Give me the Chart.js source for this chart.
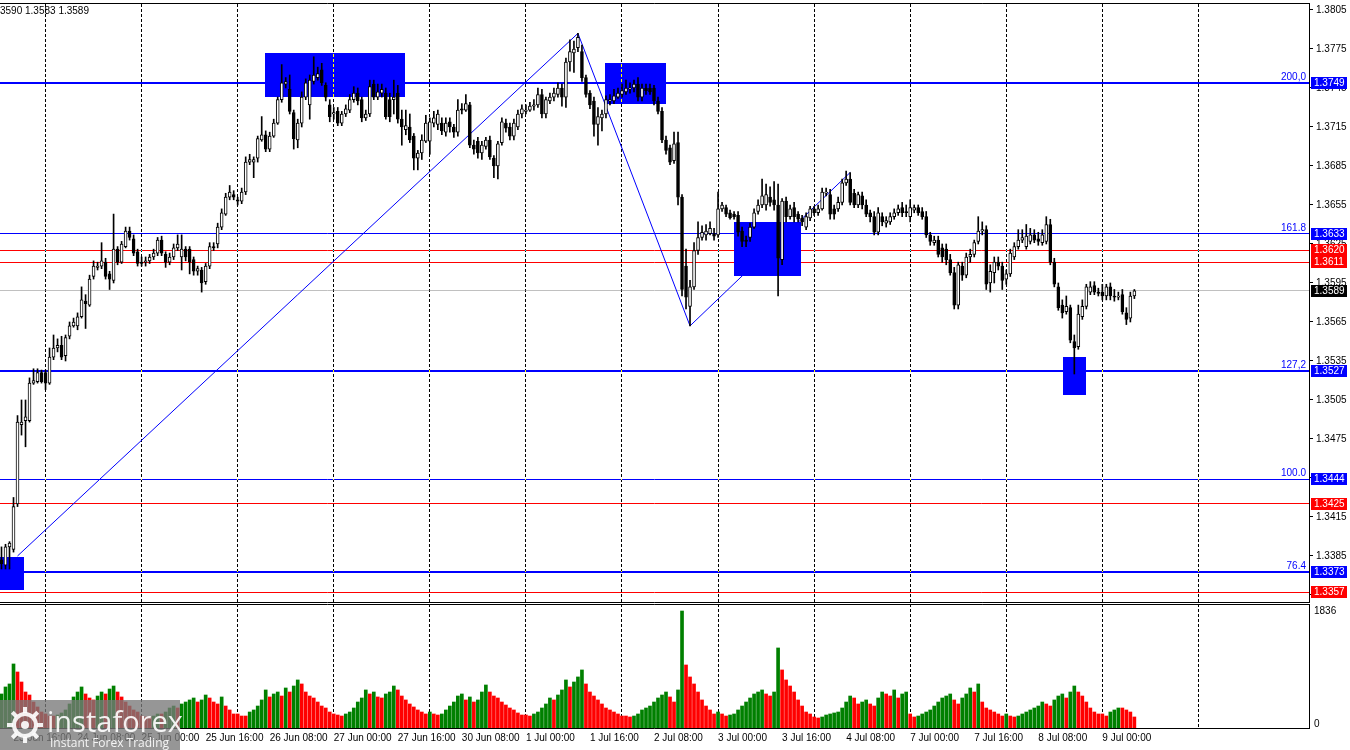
<!DOCTYPE html>
<html><head><meta charset="utf-8">
<script src="https://cdn.jsdelivr.net/npm/chart.js@4.4.1/dist/chart.umd.min.js"></script>
<style>
html,body{margin:0;padding:0;background:#fff;overflow:hidden}
#wrap{position:relative;width:1350px;height:750px}
#pc{position:absolute;left:0;top:0}
#vc{position:absolute;left:0;top:604px}
</style></head><body><div id="wrap">
<canvas id="pc" width="1350" height="604"></canvas>
<canvas id="vc" width="1350" height="146"></canvas>
</div>
<script>
// ---------- DATA (GBPUSD H1) ----------
const tickIdx = [3,19,35,51,67,83,99,115,131,147,163,179,195,211,227,243,259,275];
const tickLabels = ['23 Jun 16:00','24 Jun 08:00','25 Jun 00:00','25 Jun 16:00','26 Jun 08:00','27 Jun 00:00','27 Jun 16:00','30 Jun 08:00','1 Jul 00:00','1 Jul 16:00','2 Jul 08:00','3 Jul 00:00','3 Jul 16:00','4 Jul 08:00','7 Jul 00:00','7 Jul 16:00','8 Jul 08:00','9 Jul 00:00'];
const dayStarts = [11,35,59,83,107,131,155,179,203,227,251,275,299];
const priceTicks = [1.3355,1.3385,1.3415,1.3445,1.3475,1.3505,1.3535,1.3565,1.3595,1.3625,1.3655,1.3685,1.3715,1.3745,1.3775,1.3805];
const volTicks = [0, 1836];
const slotCount = 327;

const openP = [
1.3382,1.3378,1.3392,1.3390,1.3425,1.3486,1.3489,1.3489,1.3518,1.3519,
1.3526,1.3526,1.3518,1.3538,1.3545,1.3547,1.3539,1.3554,1.3562,1.3562,
1.3569,1.3581,1.3578,1.3600,1.3607,1.3608,1.3611,1.3602,1.3597,1.3621,
1.3611,1.3623,1.3635,1.3629,1.3619,1.3611,1.3611,1.3612,1.3615,1.3618,
1.3628,1.3617,1.3611,1.3615,1.3622,1.3615,1.3621,1.3621,1.3613,1.3604,
1.3605,1.3596,1.3608,1.3623,1.3625,1.3638,1.3648,1.3661,1.3663,1.3659,
1.3658,1.3665,1.3688,1.3688,1.3691,1.3705,1.3709,1.3698,1.3708,1.3718,
1.3736,1.3748,1.3744,1.3726,1.3705,1.3718,1.3738,1.3732,1.3750,1.3753,
1.3759,1.3747,1.3732,1.3725,1.3727,1.3718,1.3725,1.3728,1.3736,1.3741,
1.3736,1.3722,1.3725,1.3748,1.3738,1.3741,1.3741,1.3736,1.3736,1.3741,
1.3721,1.3713,1.3715,1.3708,1.3691,1.3695,1.3704,1.3704,1.3718,1.3717,
1.3718,1.3711,1.3719,1.3715,1.3711,1.3729,1.3728,1.3732,1.3701,1.3704,
1.3695,1.3700,1.3705,1.3691,1.3685,1.3703,1.3718,1.3715,1.3708,1.3715,
1.3725,1.3727,1.3728,1.3731,1.3732,1.3740,1.3725,1.3735,1.3738,1.3740,
1.3745,1.3738,1.3765,1.3772,1.3776,1.3773,1.3753,1.3741,1.3735,1.3717,
1.3722,1.3725,1.3735,1.3735,1.3738,1.3740,1.3742,1.3744,1.3745,1.3748,
1.3738,1.3745,1.3745,1.3745,1.3735,1.3727,1.3705,1.3699,1.3689,1.3703,
1.3661,1.3608,1.3577,1.3592,1.3620,1.3630,1.3632,1.3633,1.3633,1.3632,
1.3652,1.3653,1.3649,1.3648,1.3647,1.3635,1.3628,1.3630,1.3638,1.3650,
1.3655,1.3655,1.3661,1.3659,1.3655,1.3613,1.3658,1.3646,1.3653,1.3648,
1.3645,1.3638,1.3645,1.3652,1.3649,1.3652,1.3664,1.3663,1.3652,1.3652,
1.3657,1.3672,1.3675,1.3664,1.3655,1.3662,1.3655,1.3649,1.3646,1.3634,
1.3646,1.3641,1.3642,1.3646,1.3649,1.3653,1.3650,1.3646,1.3651,1.3653,
1.3650,1.3646,1.3632,1.3626,1.3628,1.3622,1.3621,1.3613,1.3603,1.3578,
1.3608,1.3601,1.3615,1.3617,1.3627,1.3635,1.3636,1.3595,1.3603,1.3611,
1.3608,1.3598,1.3602,1.3615,1.3623,1.3628,1.3623,1.3627,1.3632,1.3629,
1.3626,1.3627,1.3640,1.3611,1.3592,1.3578,1.3573,1.3576,1.3550,1.3546,
1.3569,1.3577,1.3588,1.3593,1.3588,1.3588,1.3585,1.3592,1.3585,1.3584,
1.3586,1.3572,1.3568,1.3585];
const highP = [
1.3392,1.3394,1.3396,1.3430,1.3493,1.3505,1.3505,1.3522,1.3529,1.3529,
1.3528,1.3528,1.3545,1.3555,1.3552,1.3554,1.3555,1.3565,1.3568,1.3572,
1.3592,1.3586,1.3601,1.3612,1.3611,1.3626,1.3614,1.3604,1.3648,1.3623,
1.3627,1.3638,1.3638,1.3632,1.3621,1.3615,1.3615,1.3617,1.3621,1.3630,
1.3631,1.3619,1.3618,1.3625,1.3632,1.3632,1.3623,1.3623,1.3615,1.3608,
1.3607,1.3610,1.3626,1.3626,1.3641,1.3652,1.3664,1.3670,1.3666,1.3661,
1.3668,1.3692,1.3694,1.3692,1.3708,1.3723,1.3712,1.3711,1.3721,1.3738,
1.3763,1.3753,1.3755,1.3728,1.3721,1.3742,1.3752,1.3755,1.3769,1.3761,
1.3764,1.3749,1.3736,1.3730,1.3730,1.3727,1.3732,1.3740,1.3746,1.3745,
1.3738,1.3728,1.3751,1.3751,1.3748,1.3748,1.3745,1.3741,1.3751,1.3747,
1.3728,1.3728,1.3725,1.3710,1.3697,1.3709,1.3724,1.3722,1.3727,1.3728,
1.3722,1.3722,1.3722,1.3717,1.3736,1.3733,1.3740,1.3734,1.3705,1.3707,
1.3704,1.3707,1.3708,1.3693,1.3704,1.3722,1.3721,1.3718,1.3721,1.3728,
1.3732,1.3732,1.3734,1.3736,1.3745,1.3744,1.3738,1.3741,1.3745,1.3749,
1.3748,1.3768,1.3782,1.3781,1.3787,1.3778,1.3755,1.3743,1.3738,1.3730,
1.3728,1.3739,1.3740,1.3744,1.3745,1.3748,1.3751,1.3749,1.3751,1.3753,
1.3748,1.3748,1.3748,1.3747,1.3738,1.3730,1.3708,1.3701,1.3711,1.3711,
1.3663,1.3621,1.3597,1.3626,1.3642,1.3639,1.3640,1.3642,1.3637,1.3665,
1.3657,1.3655,1.3651,1.3650,1.3650,1.3638,1.3631,1.3641,1.3652,1.3659,
1.3675,1.3671,1.3669,1.3673,1.3671,1.3660,1.3661,1.3655,1.3657,1.3650,
1.3647,1.3649,1.3654,1.3654,1.3655,1.3668,1.3668,1.3667,1.3655,1.3661,
1.3675,1.3681,1.3680,1.3667,1.3665,1.3665,1.3659,1.3651,1.3650,1.3653,
1.3649,1.3646,1.3649,1.3652,1.3655,1.3657,1.3655,1.3659,1.3655,1.3655,
1.3653,1.3650,1.3634,1.3631,1.3631,1.3625,1.3625,1.3617,1.3607,1.3611,
1.3611,1.3618,1.3621,1.3628,1.3646,1.3642,1.3639,1.3609,1.3615,1.3615,
1.3611,1.3605,1.3621,1.3626,1.3636,1.3636,1.3640,1.3637,1.3636,1.3634,
1.3636,1.3646,1.3644,1.3614,1.3595,1.3582,1.3585,1.3578,1.3555,1.3578,
1.3582,1.3594,1.3596,1.3596,1.3591,1.3594,1.3594,1.3595,1.3590,1.3588,
1.3590,1.3576,1.3588,1.3590];
const lowP = [
1.3375,1.3375,1.3375,1.3388,1.3423,1.3478,1.3469,1.3488,1.3517,1.3518,
1.3518,1.3513,1.3517,1.3536,1.3542,1.3536,1.3535,1.3552,1.3561,1.3559,
1.3568,1.3560,1.3577,1.3598,1.3605,1.3606,1.3598,1.3590,1.3595,1.3609,
1.3610,1.3622,1.3628,1.3616,1.3608,1.3608,1.3608,1.3610,1.3613,1.3616,
1.3616,1.3607,1.3609,1.3613,1.3620,1.3605,1.3612,1.3602,1.3601,1.3601,
1.3588,1.3594,1.3606,1.3620,1.3622,1.3636,1.3647,1.3659,1.3659,1.3655,
1.3656,1.3663,1.3686,1.3676,1.3688,1.3704,1.3696,1.3696,1.3707,1.3717,
1.3734,1.3745,1.3725,1.3698,1.3699,1.3715,1.3736,1.3721,1.3748,1.3751,
1.3747,1.3735,1.3719,1.3721,1.3716,1.3716,1.3723,1.3726,1.3734,1.3732,
1.3719,1.3720,1.3723,1.3736,1.3736,1.3738,1.3721,1.3719,1.3725,1.3718,
1.3701,1.3709,1.3703,1.3682,1.3682,1.3690,1.3703,1.3694,1.3715,1.3713,
1.3709,1.3708,1.3711,1.3707,1.3708,1.3725,1.3727,1.3699,1.3694,1.3691,
1.3690,1.3698,1.3690,1.3676,1.3675,1.3701,1.3711,1.3705,1.3705,1.3713,
1.3722,1.3725,1.3727,1.3728,1.3730,1.3722,1.3722,1.3733,1.3735,1.3738,
1.3731,1.3730,1.3758,1.3757,1.3773,1.3750,1.3738,1.3729,1.3708,1.3701,
1.3712,1.3722,1.3732,1.3733,1.3737,1.3738,1.3740,1.3741,1.3742,1.3735,
1.3735,1.3740,1.3740,1.3732,1.3725,1.3703,1.3694,1.3686,1.3687,1.3655,
1.3585,1.3575,1.3562,1.3590,1.3617,1.3628,1.3628,1.3632,1.3628,1.3630,
1.3650,1.3646,1.3644,1.3644,1.3631,1.3623,1.3623,1.3627,1.3637,1.3648,
1.3653,1.3651,1.3654,1.3651,1.3585,1.3609,1.3642,1.3644,1.3642,1.3642,
1.3639,1.3636,1.3643,1.3647,1.3647,1.3651,1.3662,1.3644,1.3644,1.3650,
1.3655,1.3670,1.3655,1.3653,1.3653,1.3652,1.3646,1.3642,1.3632,1.3632,
1.3639,1.3638,1.3640,1.3644,1.3647,1.3646,1.3646,1.3642,1.3649,1.3647,
1.3644,1.3630,1.3624,1.3624,1.3615,1.3611,1.3609,1.3601,1.3575,1.3575,
1.3597,1.3599,1.3611,1.3615,1.3625,1.3632,1.3590,1.3588,1.3595,1.3605,
1.3590,1.3594,1.3600,1.3613,1.3621,1.3626,1.3621,1.3625,1.3626,1.3624,
1.3624,1.3625,1.3609,1.3592,1.3574,1.3568,1.3571,1.3549,1.3525,1.3544,
1.3567,1.3575,1.3586,1.3586,1.3585,1.3582,1.3582,1.3582,1.3581,1.3582,
1.3571,1.3563,1.3565,1.3583];
const closeP = [
1.3379,1.3392,1.3395,1.3423,1.3488,1.3488,1.3492,1.3518,1.3520,1.3526,
1.3519,1.3518,1.3538,1.3545,1.3547,1.3538,1.3553,1.3562,1.3565,1.3569,
1.3582,1.3579,1.3598,1.3608,1.3608,1.3612,1.3600,1.3598,1.3621,1.3611,
1.3625,1.3635,1.3630,1.3618,1.3610,1.3610,1.3612,1.3615,1.3618,1.3628,
1.3618,1.3611,1.3615,1.3622,1.3625,1.3621,1.3615,1.3611,1.3604,1.3606,
1.3595,1.3608,1.3623,1.3622,1.3638,1.3649,1.3661,1.3665,1.3661,1.3658,
1.3665,1.3688,1.3690,1.3690,1.3706,1.3709,1.3698,1.3708,1.3718,1.3736,
1.3749,1.3750,1.3727,1.3706,1.3718,1.3738,1.3749,1.3751,1.3755,1.3756,
1.3749,1.3738,1.3723,1.3726,1.3718,1.3725,1.3729,1.3736,1.3741,1.3735,
1.3722,1.3725,1.3746,1.3738,1.3742,1.3744,1.3723,1.3723,1.3738,1.3721,
1.3715,1.3716,1.3705,1.3691,1.3695,1.3705,1.3718,1.3719,1.3722,1.3725,
1.3712,1.3718,1.3715,1.3711,1.3728,1.3728,1.3733,1.3701,1.3698,1.3695,
1.3701,1.3705,1.3692,1.3685,1.3702,1.3719,1.3714,1.3708,1.3718,1.3725,
1.3729,1.3728,1.3731,1.3732,1.3740,1.3725,1.3736,1.3738,1.3741,1.3745,
1.3738,1.3765,1.3773,1.3775,1.3784,1.3753,1.3740,1.3732,1.3717,1.3723,
1.3725,1.3736,1.3736,1.3739,1.3741,1.3743,1.3745,1.3745,1.3748,1.3738,
1.3745,1.3743,1.3742,1.3735,1.3727,1.3705,1.3697,1.3688,1.3702,1.3661,
1.3590,1.3584,1.3592,1.3620,1.3630,1.3634,1.3635,1.3637,1.3631,1.3652,
1.3655,1.3648,1.3645,1.3646,1.3634,1.3627,1.3627,1.3638,1.3649,1.3655,
1.3662,1.3663,1.3657,1.3655,1.3614,1.3658,1.3646,1.3652,1.3646,1.3644,
1.3642,1.3646,1.3652,1.3649,1.3652,1.3665,1.3665,1.3648,1.3648,1.3657,
1.3672,1.3675,1.3657,1.3655,1.3663,1.3655,1.3648,1.3646,1.3634,1.3649,
1.3642,1.3643,1.3646,1.3649,1.3652,1.3649,1.3649,1.3653,1.3653,1.3649,
1.3646,1.3632,1.3627,1.3628,1.3617,1.3615,1.3613,1.3603,1.3578,1.3609,
1.3601,1.3615,1.3617,1.3626,1.3635,1.3636,1.3594,1.3604,1.3611,1.3608,
1.3597,1.3602,1.3618,1.3623,1.3628,1.3630,1.3631,1.3632,1.3628,1.3627,
1.3632,1.3640,1.3611,1.3594,1.3576,1.3572,1.3577,1.3551,1.3545,1.3571,
1.3577,1.3592,1.3592,1.3588,1.3587,1.3585,1.3592,1.3585,1.3584,1.3585,
1.3573,1.3567,1.3585,1.3589];
const volume = [
534,644,691,1005,879,722,565,518,408,330,251,
220,188,188,204,236,283,377,487,565,644,534,471,440,502,565,534,612,659,565,487,408,345,283,251,
188,173,173,188,220,220,251,314,345,314,377,408,440,471,408,440,518,471,408,377,487,345,283,220,
220,188,188,251,283,345,440,597,487,534,565,502,628,565,659,754,691,565,502,471,408,345,314,251,
220,204,188,220,251,314,408,471,597,534,565,487,471,534,565,659,597,502,440,377,330,283,251,220,
251,220,204,220,283,345,408,502,534,440,487,408,440,565,675,565,502,471,408,361,314,283,236,204,
204,188,220,251,314,377,471,440,518,597,754,644,722,801,911,691,565,502,440,377,314,283,251,220,
188,188,173,188,220,283,314,345,408,471,518,565,487,408,597,1836,989,801,691,565,440,345,283,220,
251,220,188,204,220,283,345,408,471,534,565,597,534,502,565,1256,911,754,659,565,440,345,251,220,
173,157,173,204,220,236,251,314,408,502,471,377,408,440,377,345,471,565,534,502,597,471,534,565,
220,173,188,220,251,283,345,408,471,502,534,440,377,471,534,628,565,691,408,314,283,251,220,188,
220,188,173,188,220,251,283,314,345,408,377,345,440,502,534,471,565,659,565,502,408,314,251,220,
220,188,251,283,314,314,283,251,173];

// analysis objects
const fibLevels = [1.3749, 1.3633, 1.3527, 1.3444, 1.3373];
const fibTags = ['200,0', '161.8', '127,2', '100.0', '76.4'];
const fibThick = [true, false, true, false, true];
const redLevels = [1.3620, 1.3611, 1.3425, 1.3357];
const zigIdx = [4, 144, 172, 212];
const zigPrice = [1.3385, 1.3787, 1.3562, 1.3680];
const rectFrom = [-0.375, 65.875, 150.875, 182.875, 265.125];
const rectTo = [5.625, 100.875, 165.875, 199.625, 270.875];
const rectHigh = [1.3384, 1.3772, 1.3764, 1.3642, 1.3538];
const rectLow = [1.3359, 1.3738, 1.3733, 1.3600, 1.3509];

// ---------- CHARTS ----------
const FONT = 'Liberation Sans';
const idx = openP.map((_, i) => i);
const lastI = closeP.length - 1;
const lastPrice = closeP[lastI];

const white = { id: 'white', beforeDraw(c) { const g = c.ctx; g.save(); g.fillStyle = '#fff'; g.fillRect(0, 0, c.width, c.height); g.restore(); } };

function dashedDays(chart, xor) {
  const g = chart.ctx, xs = chart.scales.x, a = chart.chartArea;
  g.save();
  if (xor) { g.globalCompositeOperation = 'difference'; g.strokeStyle = '#fff'; } else g.strokeStyle = '#000';
  g.lineWidth = 1; g.setLineDash([3, 2]);
  dayStarts.forEach(d => {
    const x = Math.floor(xs.getPixelForValue(d)) + 0.5;
    if (x < a.left || x > a.right) return;
    g.beginPath(); g.moveTo(x, a.top); g.lineTo(x, a.bottom); g.stroke();
  });
  g.restore();
}

const pricePlugin = {
  id: 'pricePlugin',
  beforeDatasetsDraw(chart) {
    const g = chart.ctx, xs = chart.scales.x, ys = chart.scales.y, a = chart.chartArea;
    g.save();
    g.beginPath(); g.rect(a.left, a.top, a.right - a.left, a.bottom - a.top); g.clip();
    const hline = (p, color, w) => {
      const y = w === 2 ? Math.round(ys.getPixelForValue(p)) : Math.floor(ys.getPixelForValue(p)) + 0.5;
      g.strokeStyle = color; g.lineWidth = w;
      g.beginPath(); g.moveTo(a.left, y); g.lineTo(a.right, y); g.stroke();
    };
    hline(lastPrice, '#c0c0c0', 1);
    redLevels.forEach(p => hline(p, '#ff0000', 1));
    fibLevels.forEach((p, k) => hline(p, '#0000ff', fibThick[k] ? 2 : 1));
    g.fillStyle = '#0000ff';
    rectFrom.forEach((f, k) => {
      const x0 = Math.round(xs.getPixelForValue(f)), x1 = Math.round(xs.getPixelForValue(rectTo[k]));
      const y0 = Math.round(ys.getPixelForValue(rectHigh[k])), y1 = Math.round(ys.getPixelForValue(rectLow[k]));
      g.fillRect(x0, y0, x1 - x0, y1 - y0);
    });
    g.restore();
    dashedDays(chart, true);
  },
  afterDraw(chart) {
    const g = chart.ctx, ys = chart.scales.y, a = chart.chartArea;
    g.save();
    g.strokeStyle = '#000'; g.lineWidth = 1;
    g.beginPath();
    g.moveTo(0, 3.5); g.lineTo(a.right + 0.5, 3.5);
    g.moveTo(0, a.bottom + 0.5); g.lineTo(a.right + 0.5, a.bottom + 0.5);
    g.moveTo(a.right + 0.5, 3); g.lineTo(a.right + 0.5, a.bottom + 1);
    g.stroke();
    g.font = '10px "' + FONT + '"'; g.textAlign = 'right'; g.textBaseline = 'bottom'; g.fillStyle = '#0000ff';
    fibLevels.forEach((p, k) => g.fillText(fibTags[k], a.right - 3, Math.round(ys.getPixelForValue(p)) - 1));
    const box = (p, bg) => {
      const y = Math.round(ys.getPixelForValue(p));
      g.fillStyle = bg; g.fillRect(a.right + 2, y - 6, 36, 12);
      g.fillStyle = '#fff'; g.textAlign = 'left'; g.textBaseline = 'middle';
      g.fillText(p.toFixed(4), a.right + 5, y + 0.5);
    };
    fibLevels.forEach(p => box(p, '#0000ff'));
    redLevels.forEach(p => box(p, '#ff0000'));
    box(lastPrice, '#000000');
    g.fillStyle = '#000'; g.textAlign = 'left'; g.textBaseline = 'middle';
    g.fillText(highP[lastI].toFixed(4).slice(2) + ' ' + lowP[lastI].toFixed(4) + ' ' + closeP[lastI].toFixed(4), 0, 11);
    g.restore();
  }
};

new Chart(document.getElementById('pc'), {
  type: 'bar',
  data: {
    datasets: [
      { type: 'bar', data: idx.map(i => ({ x: i, y: [openP[i], closeP[i]] })),
        backgroundColor: idx.map(i => closeP[i] >= openP[i] ? '#ffffff' : '#000000'),
        borderColor: '#000000', borderWidth: 1, borderSkipped: false, barThickness: 3,
        minBarLength: 1, grouped: false, order: 0 },
      { type: 'bar', data: idx.map(i => ({ x: i, y: [lowP[i], highP[i]] })),
        backgroundColor: '#000000', borderWidth: 0, barThickness: 1, grouped: false, order: 1 },
      { type: 'line', data: zigIdx.map((x, k) => ({ x, y: zigPrice[k] })),
        borderColor: '#0000ff', borderWidth: 1, pointRadius: 0, fill: false, tension: 0, order: 2 }
    ]
  },
  options: {
    responsive: false, animation: false, events: [],
    layout: { padding: { top: 4, bottom: 2, left: 0, right: 0 } },
    plugins: { legend: { display: false }, tooltip: { enabled: false } },
    scales: {
      x: { type: 'linear', offset: false, bounds: 'data', min: -0.375, max: slotCount - 0.375, display: false },
      y: { position: 'right', min: 1.33496, max: 1.38096,
        afterBuildTicks: s => { s.ticks = priceTicks.map(v => ({ value: v })); },
        afterFit: s => { s.width = 41; s.paddingTop = 0; s.paddingBottom = 0; },
        ticks: { color: '#000', font: { family: FONT, size: 10 }, padding: 3, callback: v => Number(v).toFixed(4) },
        grid: { drawOnChartArea: false, tickLength: 4, color: '#000' },
        border: { display: true, color: '#000' } }
    }
  },
  plugins: [white, pricePlugin]
});

const volPlugin = {
  id: 'volPlugin',
  beforeDatasetsDraw(chart) { dashedDays(chart, false); },
  afterDraw(chart) {
    const g = chart.ctx, ys = chart.scales.y, a = chart.chartArea;
    g.save();
    g.strokeStyle = '#000'; g.lineWidth = 1;
    g.beginPath();
    g.moveTo(0, 0.5); g.lineTo(a.right + 0.5, 0.5);
    g.moveTo(0, a.bottom + 0.5); g.lineTo(a.right + 0.5, a.bottom + 0.5);
    g.moveTo(a.right + 0.5, 0); g.lineTo(a.right + 0.5, a.bottom + 1);
    g.stroke();
    g.fillStyle = '#000'; g.font = '10px "' + FONT + '"'; g.textAlign = 'left';
    g.textBaseline = 'middle'; g.fillText(String(volTicks[1]), a.right + 5, ys.getPixelForValue(volTicks[1]));
    g.textBaseline = 'bottom'; g.fillText(String(volTicks[0]), a.right + 5, ys.getPixelForValue(volTicks[0]) + 1);
    g.fillStyle = 'rgba(120,120,120,0.78)';
    g.fillRect(0, 96, 180, 50);
    g.strokeStyle = 'rgba(255,255,255,0.9)'; g.fillStyle = 'rgba(255,255,255,0.9)';
    const cx = 25, cy = 121;
    g.lineWidth = 4;
    g.beginPath(); g.arc(cx, cy, 11, 0, Math.PI * 2); g.stroke();
    for (let k = 0; k < 8; k++) {
      const t = k * Math.PI / 4;
      g.beginPath(); g.moveTo(cx + Math.cos(t) * 12, cy + Math.sin(t) * 12); g.lineTo(cx + Math.cos(t) * 18, cy + Math.sin(t) * 18); g.stroke();
    }
    g.beginPath(); g.arc(cx, cy, 4, 0, Math.PI * 2); g.fill();
    g.font = '29px "Open Sans"'; g.textBaseline = 'alphabetic';
    g.fillText('instaforex', 47, 128);
    g.font = '12px "Open Sans"';
    g.fillText('Instant Forex Trading', 50, 143);
    g.restore();
  }
};

new Chart(document.getElementById('vc'), {
  type: 'bar',
  data: {
    datasets: [{ data: idx.map(i => ({ x: i, y: volume[i] })),
      backgroundColor: idx.map(i => (i === 0 || volume[i] > volume[i - 1]) ? '#008000' : '#ff0000'),
      borderWidth: 0, barThickness: 3, grouped: false }]
  },
  options: {
    responsive: false, animation: false, events: [],
    layout: { padding: { top: 0, bottom: 0, left: 0, right: 0 } },
    plugins: { legend: { display: false }, tooltip: { enabled: false } },
    scales: {
      x: { type: 'linear', offset: false, bounds: 'data', min: -0.375, max: slotCount - 0.375,
        afterBuildTicks: s => { s.ticks = tickIdx.map(v => ({ value: v })); },
        afterFit: s => { s.height = 22; s.paddingLeft = 0; s.paddingRight = 0; },
        ticks: { align: 'start', maxRotation: 0, autoSkip: false, padding: 4, color: '#000',
          font: { family: FONT, size: 10 },
          callback: (v) => { const k = tickIdx.indexOf(v); return k >= 0 ? tickLabels[k] : ''; } },
        grid: { display: false, drawTicks: false },
        border: { display: false } },
      y: { position: 'right', min: 0, max: 1946,
        afterBuildTicks: s => { s.ticks = []; },
        afterFit: s => { s.width = 41; s.paddingTop = 0; s.paddingBottom = 0; },
        ticks: { display: false },
        grid: { display: false },
        border: { display: true, color: '#000' } }
    }
  },
  plugins: [white, volPlugin]
});
</script>
</body></html>
